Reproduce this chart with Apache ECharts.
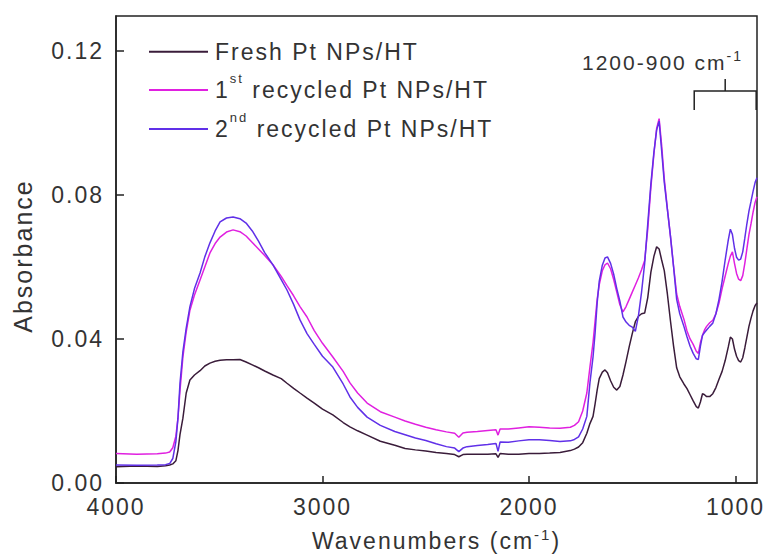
<!DOCTYPE html>
<html>
<head>
<meta charset="utf-8">
<title>FTIR spectra of Pt NPs/HT</title>
<script src="https://cdn.jsdelivr.net/npm/echarts@6/dist/echarts.min.js"></script>
<style>
  html, body { margin: 0; padding: 0; background: #fff; }
  #chart { width: 765px; height: 557px; }
  /* wide tracking of the plot lettering */
  #chart text { letter-spacing: 2px; }
</style>
</head>
<body>
<div id="chart"></div>
<script>
// Wavenumber grid (cm-1), shared by the three spectra
const wavenumbers = [
  4000, 3900, 3800, 3760, 3740, 3725, 3710, 3700, 3690, 3676,
  3660, 3642, 3620, 3593, 3570, 3545, 3520, 3496, 3465, 3433,
  3400, 3370, 3340, 3310, 3280, 3240, 3200, 3172, 3140, 3109,
  3075, 3040, 3000, 2950, 2900, 2867, 2830, 2784, 2720, 2650,
  2600, 2550, 2500, 2450, 2400, 2360, 2340, 2320, 2300, 2250,
  2200, 2160, 2150, 2140, 2100, 2050, 2000, 1950, 1900, 1850,
  1800, 1780, 1760, 1740, 1720, 1705, 1690, 1680, 1670, 1660,
  1645, 1632, 1620, 1605, 1590, 1575, 1560, 1545, 1530, 1515,
  1500, 1485, 1470, 1455, 1440, 1425, 1410, 1395, 1382, 1370,
  1358, 1345, 1330, 1315, 1300, 1285, 1270, 1250, 1235, 1220,
  1205, 1190, 1180, 1170, 1160, 1150, 1140, 1125, 1110, 1095,
  1080, 1065, 1050, 1035, 1025, 1015, 1005, 995, 985, 975,
  965, 955, 945, 935, 925, 915, 905, 896
];

// Absorbance, fresh catalyst
const freshAbs = [
  .0045, .0047, .0046, .0048, .0050, .0053, .0062, .0090, .0135, .0180,
  .0250, .0286, .0300, .0312, .0325, .0333, .0338, .0341, .0342, .0342,
  .0343, .0336, .0328, .0320, .0311, .0300, .0290, .0277, .0263, .0250,
  .0236, .0222, .0205, .0189, .0168, .0156, .0145, .0133, .0116, .0105,
  .0096, .0092, .0089, .0085, .0082, .0079, .0073, .0079, .0080, .0080,
  .0080, .0081, .0071, .0082, .0080, .0080, .0082, .0082, .0083, .0085,
  .0090, .0094, .0100, .0112, .0138, .0165, .0185, .0220, .0258, .0290,
  .0308, .0314, .0306, .0284, .0266, .0258, .0268, .0300, .0338, .0378,
  .0415, .0448, .0463, .0470, .0472, .0515, .0585, .0630, .0656, .0650,
  .0620, .0590, .0525, .0450, .0380, .0320, .0295, .0275, .0262, .0245,
  .0228, .0212, .0208, .0225, .0248, .0245, .0240, .0240, .0248, .0265,
  .0288, .0310, .0340, .0378, .0405, .0400, .0372, .0352, .0340, .0336,
  .0348, .0375, .0405, .0435, .0458, .0478, .0493, .0500
];

// Absorbance after the first recycling run
const firstAbs = [
  .0082, .0080, .0081, .0083, .0086, .0098, .0130, .0180, .0258, .0350,
  .0420, .0480, .0522, .0564, .0600, .0639, .0665, .0683, .0697, .0703,
  .0698, .0686, .0668, .0650, .0632, .0606, .0574, .0548, .0520, .0490,
  .0461, .0423, .0388, .0350, .0310, .0278, .0250, .0222, .0198, .0183,
  .0172, .0163, .0155, .0148, .0142, .0138, .0127, .0139, .0141, .0143,
  .0146, .0148, .0133, .0150, .0150, .0153, .0156, .0155, .0153, .0152,
  .0155, .0160, .0170, .0200, .0250, .0322, .0390, .0450, .0510, .0550,
  .0590, .0606, .0611, .0595, .0565, .0530, .0495, .0475, .0490, .0510,
  .0530, .0550, .0570, .0592, .0618, .0705, .0820, .0915, .0985, .1012,
  .0940, .0845, .0762, .0685, .0602, .0525, .0490, .0455, .0422, .0400,
  .0385, .0366, .0360, .0390, .0410, .0425, .0435, .0445, .0452, .0470,
  .0500, .0540, .0575, .0610, .0630, .0642, .0610, .0582, .0566, .0562,
  .0576, .0610, .0650, .0690, .0720, .0752, .0780, .0795
];

// Absorbance after the second recycling run
const secondAbs = [
  .0050, .0049, .0050, .0051, .0054, .0068, .0115, .0180, .0278, .0365,
  .0430, .0490, .0540, .0583, .0628, .0667, .0700, .0725, .0736, .0739,
  .0734, .0722, .0700, .0672, .0640, .0606, .0565, .0536, .0496, .0453,
  .0415, .0385, .0352, .0322, .0275, .0239, .0210, .0183, .0160, .0143,
  .0134, .0125, .0118, .0109, .0101, .0097, .0087, .0097, .0101, .0104,
  .0107, .0110, .0088, .0114, .0113, .0117, .0120, .0120, .0118, .0115,
  .0117, .0121, .0128, .0150, .0185, .0278, .0350, .0417, .0500, .0560,
  .0605, .0625, .0628, .0610, .0580, .0540, .0505, .0461, .0447, .0438,
  .0433, .0421, .0465, .0530, .0610, .0720, .0830, .0920, .0980, .1005,
  .0925, .0835, .0760, .0685, .0600, .0510, .0470, .0435, .0406, .0380,
  .0360, .0345, .0343, .0380, .0410, .0418, .0425, .0435, .0444, .0470,
  .0510, .0560, .0620, .0675, .0705, .0690, .0652, .0627, .0619, .0622,
  .0642, .0680, .0720, .0755, .0782, .0810, .0835, .0848
];

const seriesNames = ['Fresh Pt NPs/HT', '1st recycled Pt NPs/HT', '2nd recycled Pt NPs/HT'];
const xTicks = [4000, 3000, 2000, 1000];
const yTicks = [0, 0.04, 0.08, 0.12];
const xRange = [896, 4000];
const yRange = [0, 0.1297];
// Region marked by the bracket in the upper right corner (cm-1)
const bracketRange = [1200, 900];

const FONT = '"Liberation Sans", Arial, Helvetica, sans-serif';
const INK = '#333';
const AXIS = '#222';
const TRACKING = 2; // px, must agree with the letter-spacing rule above
const colors = ['#3a1c3a', '#e020e0', '#6030e8'];

// Text layout has to account for the extra tracking, so that rich-text
// pieces (superscripts) sit right after the preceding characters.
const measureCtx = document.createElement('canvas').getContext('2d');
if (echarts.setPlatformAPI) {
  echarts.setPlatformAPI({
    measureText(text, font) {
      measureCtx.font = font || '12px sans-serif';
      const s = text == null ? '' : String(text);
      return { width: measureCtx.measureText(s).width + TRACKING * s.length };
    }
  });
}

// Ordinal suffixes are set as superscripts
function richName(name) {
  const m = name.match(/^(\d)(st|nd|rd|th)(.*)$/);
  if (!m) return '{n|' + name + '}';
  return '{n|' + m[1] + '}{s|' + m[2] + '}{n|' + m[3] + '}';
}

const spectra = [freshAbs, firstAbs, secondAbs];

const chart = echarts.init(document.getElementById('chart'), null, { renderer: 'svg' });

chart.setOption({
  animation: false,
  backgroundColor: '#fff',
  grid: {
    left: 116, right: 8, top: 16, bottom: 74,
    outerBoundsMode: 'none',
    containLabel: false,
    show: true, borderColor: AXIS, borderWidth: 1.5, backgroundColor: 'transparent'
  },
  legend: {
    orient: 'vertical',
    left: 149, top: 33,
    padding: 0,
    itemWidth: 59, itemHeight: 2, itemGap: 0,
    icon: 'rect',
    selectedMode: false,
    data: seriesNames,
    formatter: richName,
    textStyle: {
      fontFamily: FONT, fontSize: 23, color: INK,
      lineHeight: 37.5,
      padding: [0, 0, 0, 2],
      rich: {
        n: { fontFamily: FONT, fontSize: 23, color: INK, lineHeight: 37.5 },
        // raised superscript: extra room below lifts the glyphs above the line centre
        s: { fontFamily: FONT, fontSize: 13, color: INK, lineHeight: 13, padding: [0, 0, 24, 0] }
      }
    }
  },
  xAxis: {
    type: 'value',
    inverse: true,
    min: xRange[0], max: xRange[1],
    splitLine: { show: false },
    axisLine: { show: true, onZero: false, lineStyle: { color: AXIS, width: 1.5 } },
    axisTick: { show: true, inside: true, length: 7, customValues: xTicks, lineStyle: { color: AXIS, width: 1.5 } },
    axisLabel: {
      customValues: xTicks, margin: 11, fontFamily: FONT, fontSize: 23, color: INK,
      formatter: v => String(v)
    },
    name: '{n|Wavenumbers (cm}{s|-1}{n|)}',
    nameLocation: 'middle',
    nameGap: 43,
    nameTextStyle: {
      rich: {
        n: { fontFamily: FONT, fontSize: 23, color: INK, lineHeight: 30 },
        s: { fontFamily: FONT, fontSize: 15, color: INK, lineHeight: 20, verticalAlign: 'top' }
      }
    }
  },
  yAxis: {
    type: 'value',
    min: yRange[0], max: yRange[1],
    splitLine: { show: false },
    axisLine: { show: true, onZero: false, lineStyle: { color: AXIS, width: 1.5 } },
    axisTick: { show: true, inside: true, length: 8, customValues: yTicks, lineStyle: { color: AXIS, width: 1.5 } },
    axisLabel: {
      customValues: yTicks, margin: 12, fontFamily: FONT, fontSize: 23, color: INK,
      formatter: v => v.toFixed(2)
    }
  },
  series: seriesNames.map((name, i) => ({
    name,
    type: 'line',
    showSymbol: false,
    symbol: 'none',
    color: colors[i],
    lineStyle: { color: colors[i], width: 1.5 },
    data: wavenumbers.map((w, k) => [w, spectra[i][k]])
  })),
  graphic: [
    {
      id: 'yName',
      type: 'text',
      x: 23, y: 256,
      rotation: Math.PI / 2,
      style: { text: 'Absorbance', font: '25px ' + FONT, fill: INK, align: 'center', verticalAlign: 'middle' }
    },
    {
      id: 'regionLabel',
      type: 'text',
      x: 582, y: 47.5,
      style: {
        text: '{n|1200-900 cm}{s|-1}',
        align: 'left', verticalAlign: 'top',
        rich: {
          n: { fontFamily: FONT, fontSize: 21, fill: INK, lineHeight: 30 },
          s: { fontFamily: FONT, fontSize: 14, fill: INK, lineHeight: 14, verticalAlign: 'top' }
        }
      }
    }
  ]
});

// Bracket spanning the marked wavenumber region, placed through the x axis scale
const bx0 = chart.convertToPixel({ xAxisIndex: 0 }, bracketRange[0]);
const bx1 = chart.convertToPixel({ xAxisIndex: 0 }, bracketRange[1]);
const bMid = (bx0 + bx1) / 2;
const barY = 91, armY = 110, stemY = 79;
const bracketStyle = { stroke: AXIS, lineWidth: 1.5, fill: null };
chart.setOption({
  graphic: [
    { id: 'bracketBar', type: 'polyline', shape: { points: [[bx0, armY], [bx0, barY], [bx1, barY], [bx1, armY]] }, style: bracketStyle },
    { id: 'bracketStem', type: 'line', shape: { x1: bMid, y1: barY, x2: bMid, y2: stemY }, style: bracketStyle }
  ]
});
</script>
</body>
</html>
